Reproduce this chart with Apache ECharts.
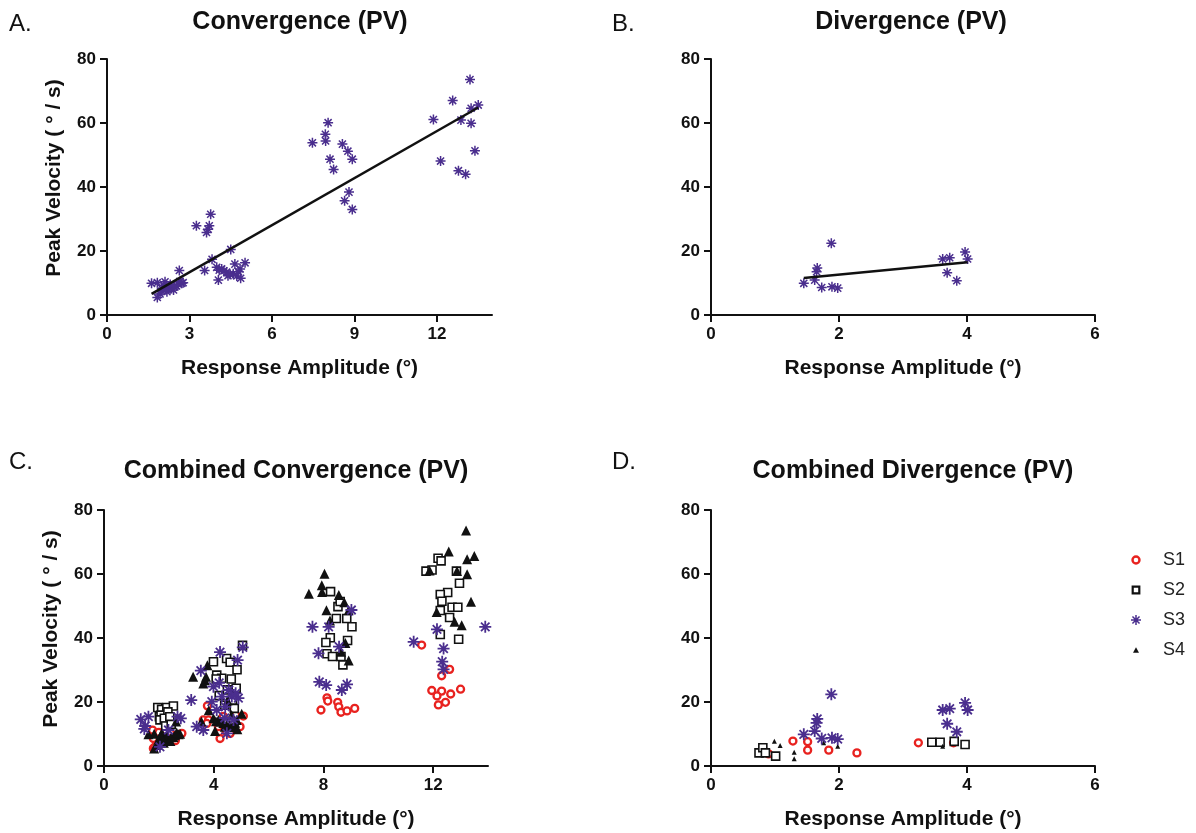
<!DOCTYPE html>
<html>
<head>
<meta charset="utf-8">
<script src="https://cdn.jsdelivr.net/npm/echarts@6/dist/echarts.min.js"></script>
<style>html,body{margin:0;background:#fff}#chart{width:1196px;height:833px}</style>
</head>
<body>
<div id="chart"></div>
<script>
// values: [response amplitude (deg), peak velocity (deg/s)]
const convS4 = [
  [13.2,73.6],[12.57,67],[13.24,64.6],[13.5,65.6],[11.87,61.1],[12.87,60.9],[13.24,59.9],[13.38,51.3],[12.13,48.1],[12.78,45.1],[13.04,44],
  [8.04,60.1],[7.94,56.5],[7.95,54.4],[7.47,53.8],[8.56,53.4],[8.76,51.2],[8.92,48.7],[8.11,48.7],[8.24,45.5],[8.8,38.4],[8.64,35.7],[8.92,33],
  [3.77,31.5],[3.25,27.9],[3.72,27.9],[3.68,26.8],[3.62,25.8],[4.5,20.5],[3.82,17.4],[3.55,13.9],[4.05,10.9],[3.99,14.9],[4.17,14.4],
  [4.35,13.4],[4.65,15.9],[5.02,16.3],[4.84,14.4],[4.59,12.9],[4.72,12.2],[4.86,11.5],[4.47,12.7],[4.08,14],[4.25,13.8],[4.4,12.3],[4.78,13.5],
  [2.63,13.9],[1.62,9.9],[1.83,10.1],[2.11,10.4],[1.83,5.5],[1.99,8.3],[2.18,7.3],[2.35,8.3],[2.53,9.1],[2.72,9.9],[2.23,8.7],
  [1.93,6.6],[2.05,9.3],[2.42,7.8],[2.59,9.6],[2.77,10.1],[2.0,7.5],[2.3,9.5],[2.15,8.0],[2.45,9.0],[2.65,10.5]
];
const convS1 = [
  [1.8,5.5],[2.43,10.2],[1.8,8.6],[2.84,10.2],[1.86,6.0],[2.47,8.6],[1.77,11.2],[2.6,7.9],[2.2,9.0],[2.0,10.5],
  [3.77,18.8],[4.23,8.6],[3.62,14.4],[3.81,14.4],[4.45,10.7],[5.08,15.6],[3.75,13.3],[4.17,12.3],[4.96,12.3],[4.6,10.2],[4.35,15.5],[4.8,16.0],
  [7.91,17.5],[8.13,21.3],[8.16,20.3],[8.52,19.9],[8.56,18.5],[8.64,16.8],[8.86,17.2],[9.14,18.0],
  [11.58,37.8],[12.6,30.2],[12.31,28.2],[11.95,23.6],[12.31,23.4],[12.14,21.9],[12.64,22.5],[13.0,24],[12.19,19.1],[12.45,19.9]
];
const convS2 = [
  [1.96,18.3],[2.1,17.7],[2.29,18.3],[2.53,18.75],[2.02,15.4],[2.08,15.9],[2.33,16.9],[2.04,14.4],[2.2,14.9],[2.4,15.4],[2.25,12.5],[2.45,13.0],
  [3.99,32.6],[4.47,33.6],[4.6,32.4],[4.85,30.1],[5.05,37.7],[4.11,28.4],[4.29,27.4],[4.09,27.2],[4.64,27.2],[4.82,24.3],[4.5,23.8],[4.68,20.5],
  [4.2,22.0],[4.4,19.0],[4.75,18.0],
  [8.26,54.5],[8.53,49.8],[8.61,51.4],[8.47,46.1],[8.85,46.1],[9.04,43.5],[8.25,40.1],[8.09,38.6],[8.88,39.2],[8.13,35.1],[8.33,34.2],[8.64,34.2],[8.71,31.6],
  [12.18,64.9],[12.29,64.1],[11.74,60.9],[11.96,61.25],[12.85,60.9],[12.96,57.1],[12.53,54.2],[12.26,53.6],[12.32,51.5],[12.69,49.6],[12.9,49.6],
  [12.26,48.6],[12.6,46.4],[12.26,41.1],[12.93,39.6]
];
const convS3 = [
  [1.34,14.6],[1.62,15.4],[1.5,12.5],[2.68,15.4],[2.8,14.9],[2.35,11.25],[2.04,6.0],[1.47,11.6],[3.18,20.6],
  [4.23,35.6],[5.06,37.1],[4.87,33.1],[3.53,29.8],[3.99,24.8],[4.3,21.7],[4.66,21.7],[4.9,21.2],[3.38,12.3],[3.62,11.25],[4.48,10.2],
  [4.72,14.4],[3.93,20.1],[4.11,17.5],[4.42,18.5],[4.55,23.75],[4.8,22.7],[4.2,26.0],[4.4,15.0],
  [7.6,43.5],[8.19,43.5],[9.02,48.75],[7.82,35.2],[8.57,37.3],[7.85,26.3],[8.1,25.3],[8.86,25.5],[8.67,23.75],
  [11.29,38.8],[12.14,42.7],[13.9,43.5],[12.38,36.7],[12.33,32.6],[12.38,30.2]
];
const divS3 = [
  [1.45,9.9],[1.62,10.9],[1.65,13.5],[1.66,14.7],[1.73,8.6],[1.88,22.4],[1.89,8.8],[1.98,8.4],
  [3.62,17.5],[3.73,17.9],[3.69,13.2],[3.84,10.7],[3.97,19.7],[4.01,17.5]
];
const divS1 = [[0.9,3.8],[1.28,7.8],[1.51,7.6],[1.51,4.95],[1.84,4.95],[2.28,4.1],[3.24,7.25],[3.79,7.25]];
const divS2 = [[0.75,4.1],[0.81,5.7],[0.85,4.1],[1.01,3.1],[3.45,7.4],[3.58,7.4],[3.8,7.7],[3.97,6.7]];
const divS4 = [[0.99,7.75],[1.08,6.4],[1.3,4.3],[1.3,2.25],[1.45,9.8],[1.62,11],[1.67,14.6],[1.76,7.3],[1.98,8.5],[1.98,6.2],[3.62,6.2]];

const yTicks = [0, 20, 40, 60, 80];
const xTicksConv = [0, 3, 6, 9, 12];
const xTicksComb = [0, 4, 8, 12];
const xTicksDiv = [0, 2, 4, 6];

const FONT = 'Liberation Sans, Arial, Helvetica, sans-serif';
const PURPLE = '#4a2e8e';
const RED = '#e8221f';
const INK = '#111';
const ASTER_ARMS = 'M-10,-1.5L10,-1.5L10,1.5L-10,1.5Z M-1.5,-10L1.5,-10L1.5,10L-1.5,10Z ' +
  'M-6.01,-8.13L8.13,6.01L6.01,8.13L-8.13,-6.01Z M-8.13,6.01L6.01,-8.13L8.13,-6.01L-6.01,8.13Z';
const ASTER = 'path://' + ASTER_ARMS;

// least squares line over the x range of the points
function fitLine(pts) {
  const n = pts.length;
  const mx = pts.reduce((s, p) => s + p[0], 0) / n;
  const my = pts.reduce((s, p) => s + p[1], 0) / n;
  let sxy = 0, sxx = 0;
  pts.forEach(p => { sxy += (p[0] - mx) * (p[1] - my); sxx += (p[0] - mx) * (p[0] - mx); });
  const b = sxy / sxx, a = my - b * mx;
  const xs = pts.map(p => p[0]);
  const x0 = Math.min(...xs), x1 = Math.max(...xs);
  return [[x0, a + b * x0], [x1, a + b * x1]];
}

const grids = [
  { left: 107, top: 59, width: 385, height: 256 },
  { left: 711, top: 59, width: 384, height: 256 },
  { left: 104, top: 510, width: 384, height: 256 },
  { left: 711, top: 510, width: 384, height: 256 }
];

function xAxis(gi, max, ticks) {
  return {
    type: 'value', gridIndex: gi, min: 0, max: max,
    name: 'Response Amplitude (°)', nameLocation: 'middle', nameGap: 43,
    nameTextStyle: { fontFamily: FONT, fontSize: 21, fontWeight: 'bold', color: INK },
    axisLine: { onZero: false, lineStyle: { color: INK, width: 2 } },
    axisTick: { length: 7, lineStyle: { color: INK, width: 2 }, customValues: ticks },
    axisLabel: { fontFamily: FONT, fontSize: 17, fontWeight: 'bold', color: INK, margin: 11, customValues: ticks },
    splitLine: { show: false }
  };
}
function yAxis(gi, named) {
  return {
    type: 'value', gridIndex: gi, min: 0, max: 80, interval: 20,
    name: named ? 'Peak Velocity ( ° / s)' : '', nameLocation: 'middle', nameGap: 42,
    nameTextStyle: { fontFamily: FONT, fontSize: 21, fontWeight: 'bold', color: INK, padding: [0, 0, 0, 18] },
    axisLine: { show: true, onZero: false, lineStyle: { color: INK, width: 2 } },
    axisTick: { show: true, length: 7, lineStyle: { color: INK, width: 2 }, customValues: yTicks },
    axisLabel: { fontFamily: FONT, fontSize: 17, fontWeight: 'bold', color: INK, margin: 11, customValues: yTicks },
    splitLine: { show: false }
  };
}

function scatter(gi, name, data, kind, size) {
  const s = { type: 'scatter', xAxisIndex: gi, yAxisIndex: gi, data: data, symbolSize: size, silent: true };
  if (name) s.name = name;
  if (kind === 'ring') { s.symbol = 'circle'; s.itemStyle = { color: '#fff', borderColor: RED, borderWidth: 2.3, opacity: 1 }; }
  if (kind === 'square') { s.symbol = 'rect'; s.itemStyle = { color: '#fff', borderColor: INK, borderWidth: 1.6, opacity: 1 }; }
  if (kind === 'star') { s.symbol = ASTER; s.itemStyle = { color: PURPLE, opacity: 1 }; }
  if (kind === 'tri') { s.symbol = 'triangle'; s.itemStyle = { color: INK, opacity: 1 }; }
  return s;
}
function fit(gi, data) {
  return {
    type: 'line', xAxisIndex: gi, yAxisIndex: gi, data: fitLine(data), symbol: 'none', silent: true,
    lineStyle: { color: INK, width: 2.5 }, z: 3
  };
}

const panelTitles = [
  { text: 'Convergence (PV)', left: 300, top: 10 },
  { text: 'Divergence (PV)', left: 911, top: 10 },
  { text: 'Combined Convergence (PV)', left: 296, top: 459 },
  { text: 'Combined Divergence (PV)', left: 913, top: 459 }
];
const letters = [
  { text: 'A.', left: 9, top: 12 }, { text: 'B.', left: 612, top: 12 },
  { text: 'C.', left: 9, top: 450 }, { text: 'D.', left: 612, top: 450 }
];

const chart = echarts.init(document.getElementById('chart'), null, { renderer: 'canvas' });
chart.setOption({
  animation: false,
  backgroundColor: '#fff',
  title: panelTitles.map(t => ({
    text: t.text, left: t.left, top: t.top, textAlign: 'center', padding: 0,
    textStyle: { fontFamily: FONT, fontSize: 25, fontWeight: 'bold', color: INK }
  })).concat(letters.map(t => ({
    text: t.text, left: t.left, top: t.top, padding: 0,
    textStyle: { fontFamily: FONT, fontSize: 24, fontWeight: 'normal', color: INK }
  }))),
  legend: {
    orient: 'vertical', left: 1126, top: 546, itemWidth: 44, itemHeight: 14, itemGap: 12,
    selectedMode: false,
    textStyle: { fontFamily: FONT, fontSize: 18, color: '#222', lineHeight: 18 },
    data: [
      { name: 'S1', icon: 'path://M0,-7L0,-7 M0,7L0,7 M-3.5,0A3.5,3.5 0 1,0 3.5,0A3.5,3.5 0 1,0 -3.5,0Z',
        itemStyle: { color: '#fff', borderColor: RED, borderWidth: 2.4 } },
      { name: 'S2', icon: 'path://M0,-7L0,-7 M0,7L0,7 M-3.3,-3.3L3.3,-3.3L3.3,3.3L-3.3,3.3Z',
        itemStyle: { color: '#fff', borderColor: INK, borderWidth: 2.2 } },
      { name: 'S3', icon: 'path://M0,-14L0,-14 M0,14L0,14 ' + ASTER_ARMS, itemStyle: { color: PURPLE, borderWidth: 0 } },
      { name: 'S4', icon: 'path://M0,-7L0,-7 M0,7L0,7 M0,-2.8L3,2.8L-3,2.8Z',
        itemStyle: { color: INK, borderWidth: 0 } }
    ]
  },
  grid: grids,
  xAxis: [xAxis(0, 14, xTicksConv), xAxis(1, 6, xTicksDiv), xAxis(2, 14, xTicksComb), xAxis(3, 6, xTicksDiv)],
  yAxis: [yAxis(0, true), yAxis(1, false), yAxis(2, true), yAxis(3, false)],
  series: [
    scatter(0, null, convS4, 'star', 10), fit(0, convS4),
    scatter(1, null, divS3, 'star', 10), fit(1, divS3),
    scatter(2, 'S1', convS1, 'ring', 7),
    scatter(2, 'S2', convS2, 'square', 8),
    scatter(2, 'S4', convS4, 'tri', 10),
    scatter(2, 'S3', convS3, 'star', 12),
    scatter(3, 'S1', divS1, 'ring', 7),
    scatter(3, 'S2', divS2, 'square', 8),
    scatter(3, 'S4', divS4, 'tri', 5),
    scatter(3, 'S3', divS3, 'star', 12)
  ]
});
</script>
</body>
</html>
